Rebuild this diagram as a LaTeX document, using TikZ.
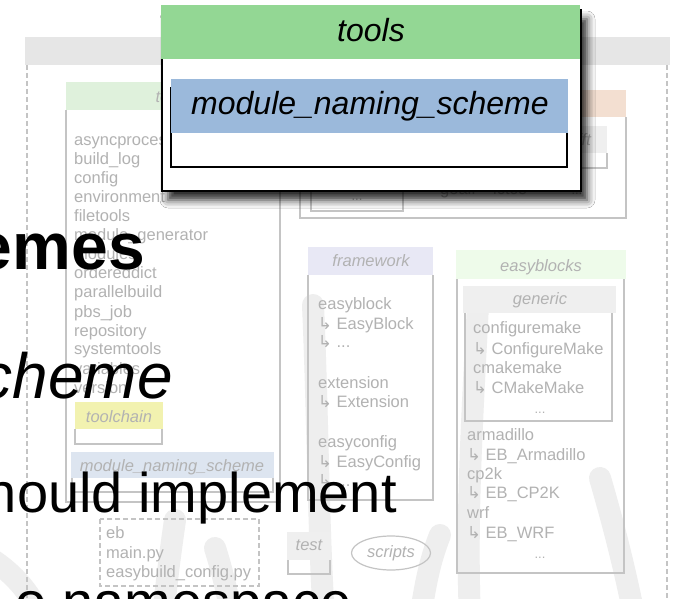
\documentclass[tikz,border=0pt]{standalone}
\usepackage{fontspec}
\setmainfont{Liberation Sans}
\newfontfamily\arrowfont{DejaVu Sans}
\usetikzlibrary{shadows.blur,shapes.geometric}

\definecolor{fadetext}{HTML}{B2B2B2}
\definecolor{fadeline}{HTML}{C4C4C4}
\definecolor{framebar}{HTML}{E6E6E6}
\definecolor{toolsbg}{HTML}{DFF1DC}
\definecolor{peachbg}{HTML}{F3DFD1}
\definecolor{lavenderbg}{HTML}{E8E8F5}
\definecolor{ebgreen}{HTML}{EEFBEA}
\definecolor{greyhdr}{HTML}{EFEFEF}
\definecolor{yellowhdr}{HTML}{F2F2B0}
\definecolor{mnsbg}{HTML}{DDE5F0}
\definecolor{popgreen}{HTML}{93D794}
\definecolor{popblue}{HTML}{9BB9DB}
\definecolor{watermark}{HTML}{EEEEEE}

\newcommand{\subarrow}{{\arrowfont ↳}\ }

\tikzset{
  fadebox/.style={draw=fadeline, line width=1.2pt},
  listtxt/.style={anchor=base west, text=fadetext, inner sep=0,
    font=\fontsize{16.5}{19}\selectfont},
  hdrtxt/.style={anchor=base, text=fadetext, inner sep=0,
    font=\fontsize{16.5}{19}\selectfont\itshape},
  dotstxt/.style={anchor=base, text=fadetext, inner sep=0,
    font=\fontsize{13}{15}\selectfont},
  bigtxt/.style={anchor=base east, text=black, inner sep=0},
  poptxt/.style={anchor=base, text=black, inner sep=0,
    font=\fontsize{32}{36}\selectfont\itshape},
  wmstroke/.style={draw=watermark, line width=22pt, line cap=round},
}

\begin{document}
\begin{tikzpicture}[x=1pt,y=-1pt]
\clip (0,0) rectangle (673,599);
\fill[white] (0,0) rectangle (673,599);

% faint background logo strokes
\draw[wmstroke] (313,305) .. controls (318,420) and (318,520) .. (324,620);
\draw[wmstroke] (478,305) .. controls (472,420) and (466,520) .. (470,620);
\draw[wmstroke] (175,520) .. controls (170,555) and (166,585) .. (163,620);
\draw[wmstroke] (215,548) .. controls (222,570) and (228,595) .. (232,620);
\draw[wmstroke] (-15,555) .. controls (10,570) and (30,590) .. (42,620);
\draw[wmstroke] (440,535) .. controls (430,560) and (425,585) .. (420,620);
\draw[wmstroke] (600,478) .. controls (615,530) and (625,570) .. (635,620);

% outer package frame
\fill[framebar] (25,37) rectangle (670,65);
\draw[fadeline, line width=1.2pt, dash pattern=on 5pt off 3pt] (27,65) -- (27,610);
\draw[fadeline, line width=1.2pt, dash pattern=on 5pt off 3pt] (667,65) -- (667,610);

% tools package
\fill[toolsbg] (66,82) rectangle (280,110);
\draw[fadebox] (66,110) -- (66,502) -- (280,502) -- (280,110);
\node[hdrtxt] (toolshdr) at (173,103) {tools};
\foreach \w [count=\i from 0] in {asyncprocess,build\_log,config,environment,filetools,
  module\_generator,modules,ordereddict,parallelbuild,pbs\_job,repository,
  systemtools,variables,version}
  \node[listtxt] (tl\i) at (74,146+19*\i) {\w};

% toolchain subpackage
\fill[yellowhdr] (75,402) rectangle (163,429);
\draw[fadebox] (75,429) -- (75,444) -- (162,444) -- (162,429);
\node[hdrtxt] (tchdr) at (119,422) {toolchain};

% module_naming_scheme subpackage
\fill[mnsbg] (71,452) rectangle (274,478);
\draw[fadebox] (72,478) -- (72,492) -- (273,492) -- (273,478);
\node[hdrtxt] (mnshdr) at (172,471) {module\_naming\_scheme};

% toolchains package
\fill[peachbg] (300,90) rectangle (626,117);
\draw[fadebox] (300,117) -- (300,218) -- (626,218) -- (626,117);
\fill[greyhdr] (561,126) rectangle (607,153);
\draw[fadebox] (561,153) -- (561,168) -- (607,168) -- (607,153);
\node[hdrtxt] (ffthdr) at (584,146) {fft};
\draw[fadebox] (311,178) rectangle (403,211);
\node[dotstxt] (tcdots) at (357,201) {...};
\node[listtxt] (goalf) at (440,195) {goalf};
\node[listtxt] (ictce) at (493,195) {ictce};
\node[dotstxt] (tcmore) at (577,195) {...};

% framework package
\fill[lavenderbg] (308,247) rectangle (433,275);
\draw[fadebox] (308,275) -- (308,500) -- (433,500) -- (433,275);
\node[hdrtxt] (fwhdr) at (371,267) {framework};
\node[listtxt] (fw1) at (318,309) {easyblock};
\node[listtxt] (fw2) at (318,329) {\subarrow EasyBlock};
\node[listtxt] (fw3) at (318,348) {\subarrow ...};
\node[listtxt] (fw4) at (318,388) {extension};
\node[listtxt] (fw5) at (318,407) {\subarrow Extension};
\node[listtxt] (fw6) at (318,447) {easyconfig};
\node[listtxt] (fw7) at (318,467) {\subarrow EasyConfig};
\node[listtxt] (fw8) at (318,486) {\subarrow ...};

% easyblocks package
\fill[ebgreen] (456,250) rectangle (626,279);
\draw[fadebox] (457,279) -- (457,573) -- (624,573) -- (624,279);
\node[hdrtxt] (ebhdr) at (541,272) {easyblocks};
\fill[greyhdr] (463,286) rectangle (616,313);
\draw[fadebox] (465,313) -- (465,421) -- (612,421) -- (612,313);
\node[hdrtxt] (genhdr) at (540,305) {generic};
\node[listtxt] (gen1) at (473,334) {configuremake};
\node[listtxt] (gen2) at (473,354) {\subarrow ConfigureMake};
\node[listtxt] (gen3) at (473,373) {cmakemake};
\node[listtxt] (gen4) at (473,393) {\subarrow CMakeMake};
\node[dotstxt] (gen5) at (540,413) {...};
\node[listtxt] (eb1) at (467,440) {armadillo};
\node[listtxt] (eb2) at (467,460) {\subarrow EB\_Armadillo};
\node[listtxt] (eb3) at (467,479) {cp2k};
\node[listtxt] (eb4) at (467,498) {\subarrow EB\_CP2K};
\node[listtxt] (eb5) at (467,518) {wrf};
\node[listtxt] (eb6) at (467,538) {\subarrow EB\_WRF};
\node[dotstxt] (eb7) at (540,558) {...};

% scripts and entry points
\draw[fadeline, line width=1.2pt, dash pattern=on 5pt off 3pt] (100,519) rectangle (259,586);
\node[listtxt] (main1) at (106,538) {eb};
\node[listtxt] (main2) at (106,558) {main.py};
\node[listtxt] (main3) at (106,577) {easybuild\_config.py};

\fill[greyhdr] (287,532) rectangle (331,560);
\draw[fadebox] (288,560) -- (288,574) -- (330,574) -- (330,560);
\node[hdrtxt] (testhdr) at (309,550) {test};

\node[ellipse, draw=fadeline, line width=1.2pt, minimum width=79pt, minimum height=34pt,
  inner sep=0, text=fadetext, font=\fontsize{16.5}{19}\selectfont\itshape]
  (scripts) at (391,553) {scripts};

% slide text
\node[bigtxt, font=\fontsize{66}{70}\selectfont\bfseries] (line1) at (145,270) {emes};
\node[bigtxt, font=\fontsize{64}{70}\selectfont\itshape] (line2) at (173,398) {cheme};
\node[bigtxt, font=\fontsize{56}{62}\selectfont] (line3) at (397,512) {hould implement};
\node[bigtxt, font=\fontsize{56}{62}\selectfont] (line4) at (352,621) {o namespace};

% highlighted tools package
\fill[white, blur shadow={shadow xshift=6pt, shadow yshift=-9pt,
  shadow blur radius=8pt, shadow opacity=85}] (162,10) rectangle (581,191);
\draw[black, line width=2.5pt] (162,10) rectangle (581,191);
\fill[popgreen] (161,5) rectangle (580,59);
\node[poptxt] (pophdr) at (371,42) {tools};
\draw[black, line width=2pt, fill=white] (171,88) rectangle (567,167);
\fill[popblue] (171,79) rectangle (568,133);
\node[poptxt] (popmns) at (370,115) {module\_naming\_scheme};
\end{tikzpicture}
\end{document}
